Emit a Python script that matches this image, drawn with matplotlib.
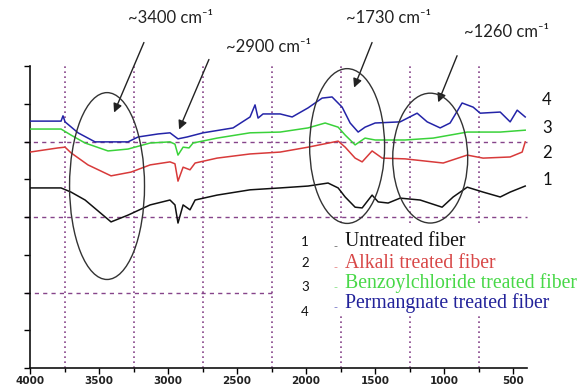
import matplotlib
matplotlib.use("Agg")
import matplotlib.pyplot as plt
from matplotlib.patches import Ellipse, Rectangle
from matplotlib.ticker import MultipleLocator, NullFormatter

# FTIR spectra (wavenumber in cm-1, offset transmittance in grid units)
wn_untreated = [4000, 3775, 3703, 3601, 3413, 3290, 3130, 2986, 2950, 2928, 2891, 2841, 2804,
                2645, 2406, 2188, 1986, 1841, 1768, 1717, 1645, 1594, 1522, 1478, 1406, 1319,
                1174, 1015, 935, 833, 718, 594, 522, 413]
t_untreated = [4.77, 4.77, 4.66, 4.45, 3.87, 4.05, 4.32, 4.45, 4.32, 3.84, 4.32, 4.19, 4.45,
               4.58, 4.72, 4.77, 4.82, 4.90, 4.77, 4.53, 4.26, 4.24, 4.58, 4.40, 4.37, 4.50,
               4.45, 4.26, 4.53, 4.79, 4.66, 4.53, 4.66, 4.82]

wn_alkali = [4000, 3797, 3746, 3703, 3580, 3413, 3268, 3130, 2986, 2950, 2928, 2891, 2841, 2804,
             2645, 2406, 2188, 1986, 1768, 1717, 1645, 1594, 1522, 1449, 1283, 1007, 833, 718,
             522, 435, 413]
t_alkali = [5.72, 5.83, 5.85, 5.70, 5.38, 5.09, 5.19, 5.38, 5.46, 5.41, 4.95, 5.32, 5.25, 5.43,
            5.56, 5.67, 5.72, 5.85, 6.01, 5.85, 5.56, 5.46, 5.75, 5.56, 5.54, 5.43, 5.64, 5.56,
            5.59, 5.72, 5.99]

wn_benzoyl = [4000, 3775, 3703, 3601, 3435, 3290, 3130, 2986, 2950, 2928, 2891, 2848, 2819,
              2645, 2406, 2188, 1986, 1862, 1768, 1717, 1645, 1573, 1500, 1283, 1080, 833, 594, 413]
t_benzoyl = [6.33, 6.33, 6.17, 5.96, 5.75, 5.80, 5.96, 5.99, 5.93, 5.64, 5.85, 5.83, 5.96,
             6.09, 6.23, 6.25, 6.36, 6.49, 6.38, 6.17, 5.91, 6.09, 6.04, 6.04, 6.09, 6.25, 6.25, 6.30]

wn_perm = [4000, 3775, 3761, 3746, 3652, 3529, 3290, 3217, 3072, 2986, 2928, 2862, 2746, 2529,
           2406, 2370, 2348, 2312, 2188, 2101, 1986, 1884, 1812, 1739, 1681, 1623, 1573, 1500,
           1319, 1196, 1123, 1029, 957, 870, 790, 739, 594, 522, 471, 413]
t_perm = [6.54, 6.54, 6.68, 6.52, 6.23, 5.99, 5.99, 6.12, 6.20, 6.23, 6.07, 6.12, 6.23, 6.36,
          6.65, 6.97, 6.62, 6.73, 6.73, 6.65, 6.89, 7.15, 7.18, 6.91, 6.49, 6.25, 6.38, 6.49,
          6.52, 6.75, 6.52, 6.36, 6.49, 7.02, 6.91, 6.75, 6.78, 6.52, 6.83, 6.65]

series_labels = ["Untreated fiber", "Alkali treated fiber",
                 "Benzoylchloride treated fiber", "Permangnate treated fiber"]
series_numbers = ["1", "2", "3", "4"]
line_colors = ["#111111", "#d83a3a", "#3ad23a", "#2424a8"]
text_colors = ["#111111", "#d84848", "#48d848", "#22229a"]

# highlighted bands: label, ellipse centre/size, arrow tail -> head
band_labels = ["~3400 cm⁻¹", "~2900 cm⁻¹", "~1730 cm⁻¹", "~1260 cm⁻¹"]
band_text_px = [(170, 18), (268, 47), (388, 18), (507, 32)]
arrow_tails = [(3167, 8.69), (2696, 8.24), (1515, 8.69), (899, 8.34)]
arrow_heads = [(3399, 6.70), (2928, 6.25), (1660, 7.36), (1051, 6.97)]
ellipses = [(3442, 4.82, 543, 4.95), (1703, 5.88, 543, 4.10), (1101, 5.56, 543, 3.44)]

W, H = 585, 385
fig = plt.figure(figsize=(W / 100, H / 100), dpi=100)
ax = fig.add_axes([30 / W, 17 / H, 497 / W, 302 / H])

ax.set_xlim(4000, 400)
ax.set_ylim(0, 8)

grid_col = "#86448a"
for v in range(3750, 500, -500):
    ax.axvline(v, color=grid_col, lw=1.2, ls=(0, (1, 2)), zorder=1)
for h in (4, 6):
    ax.axhline(h, xmin=-0.01, color=grid_col, lw=1.0, ls=(0, (3, 3)), zorder=1, clip_on=False)
ax.plot([4030, 2230], [2, 2], color=grid_col, lw=1.0, ls=(0, (3, 3)), zorder=1, clip_on=False)

series = [(wn_untreated, t_untreated), (wn_alkali, t_alkali),
          (wn_benzoyl, t_benzoyl), (wn_perm, t_perm)]
for (x, y), c in zip(series, line_colors):
    ax.plot(x, y, color=c, lw=1.1, zorder=3)

# legend area blanks out the grid behind it
ax.add_patch(Rectangle((300, 1.40), 2140 - 300, 2.45, facecolor="white",
                       edgecolor="none", zorder=2, clip_on=False))

for cx, cy, w, h in ellipses:
    ax.add_patch(Ellipse((cx, cy), w, h, fill=False, edgecolor="#333333", lw=1.0,
                         zorder=4, clip_on=False))

for lab, (tx, ty), tail, head in zip(band_labels, band_text_px, arrow_tails, arrow_heads):
    ax.annotate("", xy=head, xytext=tail, annotation_clip=False,
                arrowprops=dict(arrowstyle="-|>", color="#222222", lw=1.0, mutation_scale=13))
    fig.text(tx / W, 1 - ty / H, lab, ha="center", va="center", fontsize=12,
             family=["Lato", "DejaVu Sans"], color="#222222")

# curve numbers at the right
for num, py in zip(["4", "3", "2", "1"], [100, 128, 153, 180]):
    fig.text(547 / W, 1 - py / H, num, ha="center", va="center", fontsize=12,
             family="Lato", color="#111111")

# legend
num_py = [242, 263, 287, 312]
lab_py = [242, 263, 283, 303]
for num, lab, tc, lc, ny, ly in zip(series_numbers, series_labels, text_colors, line_colors,
                                     num_py, lab_py):
    fig.text(305 / W, 1 - ny / H, num, ha="center", va="center", fontsize=9.5,
             family="Lato", color="#111111")
    fig.text(335 / W, 1 - (ly + 4) / H, "-", ha="center", va="center", fontsize=8,
             color=lc, alpha=0.6)
    fig.text(345 / W, 1 - ly / H, lab, ha="left", va="center", fontsize=14.2,
             family="Liberation Serif", color=tc)

for s in ("top", "right"):
    ax.spines[s].set_visible(False)
for s in ("left", "bottom"):
    ax.spines[s].set_color("#111111")
    ax.spines[s].set_linewidth(1.2)

ax.xaxis.set_major_locator(MultipleLocator(500))
ax.xaxis.set_minor_locator(MultipleLocator(250))
ax.yaxis.set_major_locator(MultipleLocator(1))
ax.yaxis.set_major_formatter(NullFormatter())
ax.tick_params(axis="x", which="major", length=4, width=1, pad=2, labelsize=7.5,
               labelcolor="#222222")
ax.tick_params(axis="x", which="minor", length=3, width=1)
ax.tick_params(axis="y", length=4, width=1)
for t in ax.get_xticklabels():
    t.set_fontweight("bold")

fig.savefig("out.png", dpi=100)
